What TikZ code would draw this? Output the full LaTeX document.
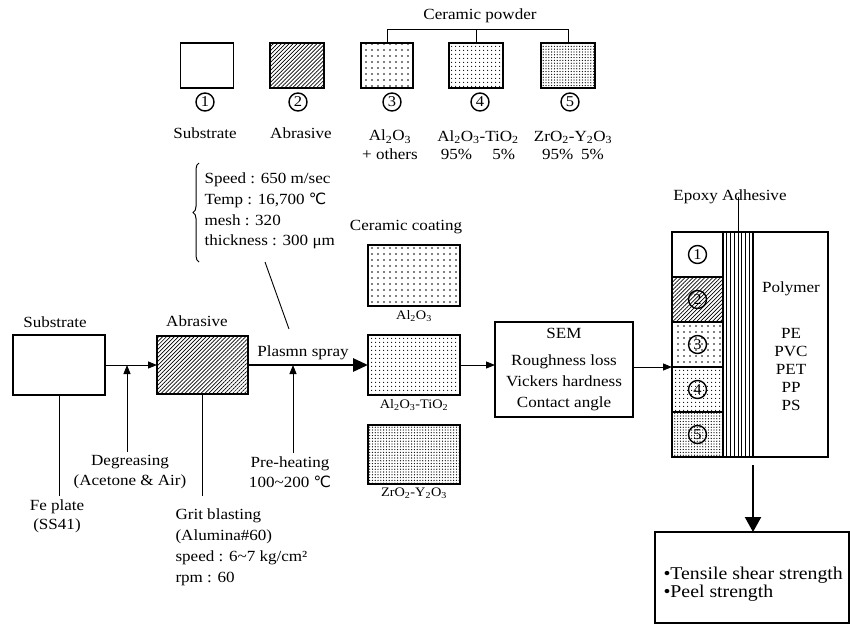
\documentclass[tikz,border=0pt]{standalone}
\usepackage{fontspec}
\setmainfont{Liberation Serif}[FakeStretch=1.1]
\newfontfamily\symf{DejaVu Sans}
\usetikzlibrary{arrows.meta,patterns.meta,positioning,decorations.pathreplacing}
\newcommand{\degc}{{\symf ℃}}
\newcommand{\sbs}[1]{\textsubscript{#1}}

\begin{document}
\begin{tikzpicture}[x=1pt,y=-1pt,font=\fontsize{15.5}{20}\selectfont,
  bx/.style={draw,line width=1.3pt,inner sep=0pt,outer sep=0pt},
  plain/.style={},
  hatch/.style={pattern={Lines[angle=45,distance=2.8pt,line width=0.7pt]}},
  dotA/.style={pattern={Dots[distance=6pt,radius=0.8pt]}},
  dotB/.style={pattern={Dots[distance=4pt,radius=0.7pt]}},
  dotC/.style={pattern={Dots[distance=2.8pt,radius=0.65pt]}},
  num/.style={circle,draw,line width=1.4pt,inner sep=0pt,minimum size=18pt,font=\fontsize{15}{15}\selectfont},
  arr/.style={line width=0.9pt,-{Triangle[length=9pt,width=7pt]}},
  thin/.style={line width=0.9pt},
  lbl/.style={font=\fontsize{13}{15}\selectfont,inner sep=1pt}]
\useasboundingbox (0,0) rectangle (850,626);

% materials legend
\node[bx,plain,minimum width=53,minimum height=45] (p1) at (207,65.5) {};
\node[bx,hatch,minimum width=54,minimum height=45] (p2) at (297,65.5) {};
\node[bx,dotA,minimum width=52,minimum height=45] (p3) at (387,65.5) {};
\node[bx,dotB,minimum width=54,minimum height=45] (p4) at (476,65.5) {};
\node[bx,dotC,minimum width=54,minimum height=45] (p5) at (568,65.5) {};
\node[num] (n1) at (205,102) {1};
\node[num] (n2) at (298,102) {2};
\node[num] (n3) at (392,102) {3};
\node[num] (n4) at (480,102) {4};
\node[num] (n5) at (570,102) {5};
\node (t1) at (205,133) {Substrate};
\node (t2) at (301,133) {Abrasive};
\node[align=center,font=\fontsize{15.5}{19}\selectfont] (t3) at (390,145) {Al\sbs{2}O\sbs{3}\\+ others};
\node[align=center,font=\fontsize{15.5}{18}\selectfont] (t4) at (478,145) {Al\sbs{2}O\sbs{3}-TiO\sbs{2}\\95\%\hspace{1.3em}5\%};
\node[align=center,font=\fontsize{15.5}{18}\selectfont] (t5) at (573,145) {ZrO\sbs{2}-Y\sbs{2}O\sbs{3}\\95\%\hspace{0.5em}5\%};
\node (cpw) at (480,16) {Ceramic powder};
\draw[thin] (p3.north) -- ++(0,-14) -| (p5.north);
\draw[thin] (p4.north) -- ++(0,-14);

% spray conditions
\draw[decorate,decoration={brace,amplitude=6pt},line width=1pt] (199,262) -- (199,163);
\node[anchor=west,align=left,font=\fontsize{15.5}{20.7}\selectfont] (spec) at (201,211)
  {Speed : 650 m/sec\\Temp : 16,700 \degc\\mesh : 320\\thickness : 300 μm};
\coordinate (cl1) at (265,262);
\coordinate (cl2) at (289,329);
\draw[thin] (cl1) -- (cl2);

% process line
\node (sublbl) at (55,322) {Substrate};
\node[bx,minimum width=92,minimum height=60] (sub) at (59,365) {};
\node (abrlbl) at (197,321) {Abrasive};
\node[bx,hatch,minimum width=91,minimum height=58] (abr) at (202.5,365) {};
\node[bx,dotA,minimum width=92,minimum height=61] (c1) at (414,275.5) {};
\node[bx,dotB,minimum width=92,minimum height=60] (c2) at (414,365) {};
\node[bx,dotC,minimum width=92,minimum height=59] (c3) at (414,454.5) {};
\node (cclbl) at (406,227) {Ceramic coating};
\node[lbl,below=3pt of c1] {Al\sbs{2}O\sbs{3}};
\node[lbl,below=3pt of c2] {Al\sbs{2}O\sbs{3}-TiO\sbs{2}};
\node[lbl,below=3pt of c3] {ZrO\sbs{2}-Y\sbs{2}O\sbs{3}};
\draw[arr] (sub) -- (abr);
\draw[line width=2.8pt,-{Triangle[length=15pt,width=13pt]}] (abr) -- (c2);
\node (pls) at (303,353) {Plasmn spray};

\coordinate (j1) at (127,365);
\coordinate (j2) at (293,365);
\node[align=center] (degr) at (130,472) {Degreasing\\(Acetone \& Air)};
\node[align=center] (preh) at (290,472) {Pre-heating\\100\textasciitilde200 \degc};
\draw[arr] (degr.north -| j1) -- (j1);
\draw[arr] (preh.north -| j2) -- (j2);
\node[align=center,font=\fontsize{15.5}{19}\selectfont] (fe) at (57,516) {Fe plate\\(SS41)};
\node[anchor=north west,align=left,font=\fontsize{15.5}{21}\selectfont] (grit) at (172,505)
  {Grit blasting\\(Alumina\#60)\\speed : 6\textasciitilde7 kg/cm²\\rpm : 60};
\draw[thin] (sub.south) -- (sub.south |- fe.north);
\draw[thin] (abr.south) -- (abr.south |- fe.north);

% evaluation
\node[bx,minimum width=138,minimum height=95,align=center,font=\fontsize{15.5}{21}\selectfont] (sem) at (564,369.5)
  {SEM\\[6pt]Roughness loss\\Vickers hardness\\Contact angle};
\draw[arr] (c2.east) -- (c2.east -| sem.west);

% bonded specimen
\foreach \st [count=\k] in {plain,hatch,dotA,dotB,dotC}
  \node[bx,\st,minimum width=51,minimum height=45] (s\k) at (697.5,209.5+45*\k) {};
\foreach \k in {1,...,5}
  \node[num] at (s\k) {\k};
\node[bx,minimum width=30,minimum height=225] (ep) at (738,344.5) {};
\foreach \dx in {3.75,7.5,...,26.5}
  \draw[thin] ([xshift=\dx pt]ep.north west) -- ([xshift=\dx pt]ep.south west);
\node[bx,minimum width=75,minimum height=225] (poly) at (790.5,344.5) {};
\node[align=center,font=\fontsize{15.5}{18}\selectfont] (pnames) at (791,346)
  {Polymer\\[28pt]PE\\PVC\\PET\\PP\\PS};
\node (epl) at (730,197) {Epoxy Adhesive};
\draw[thin] (epl.center -| ep.north) -- (ep.north);
\draw[arr] (sem.east |- s3.south west) -- (s3.south west);

\node[bx,minimum width=194,minimum height=91] (res) at (752,577.5) {};
\node[anchor=west,align=left,font=\fontsize{18}{18}\selectfont] (restxt) at (660,584.5)
  {•Tensile shear strength\\•Peel strength};
\draw[line width=2.2pt,-{Triangle[length=15pt,width=16pt]}] ([yshift=-8pt]ep.south east) -- (res.north -| ep.south east);
\end{tikzpicture}
\end{document}
